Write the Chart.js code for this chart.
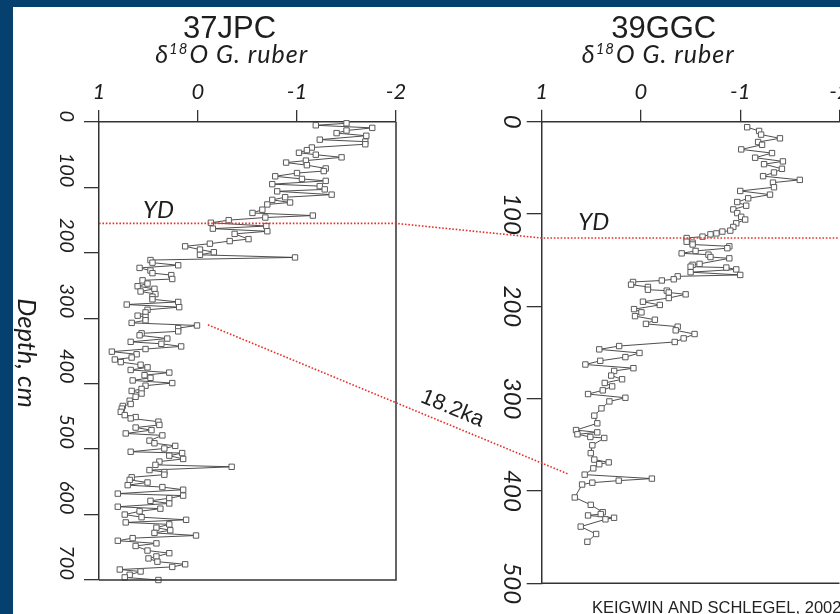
<!DOCTYPE html>
<html><head><meta charset="utf-8">
<script src="https://cdn.jsdelivr.net/npm/chart.js@4.4.1/dist/chart.umd.min.js"></script>
<style>
html,body{margin:0;padding:0;background:#fff;overflow:hidden;}
#wrap{position:relative;width:840px;height:614px;overflow:hidden;background:#fff;}
canvas{position:absolute;left:0;top:0;}
#frameL{position:absolute;left:0;top:0;width:13px;height:614px;background:#05406e;z-index:5}
#frameT{position:absolute;left:0;top:0;width:840px;height:7px;background:#05406e;z-index:5}
</style></head>
<body><div id="wrap">
<canvas id="c37" width="840" height="614" style="width:840px;height:614px"></canvas>
<canvas id="c39" width="900" height="614" style="width:900px;height:614px"></canvas>
<div id="frameL"></div><div id="frameT"></div>
</div>
<script>
// ---- DATA ----
const X_TICKS = [1, 0, -1, -2];
const Y_TICKS_37JPC = [0, 100, 200, 300, 400, 500, 600, 700];
const Y_TICKS_39GGC = [0, 100, 200, 300, 400, 500];

const DEPTH_37JPC = [2,5,9,13,17,21,27,30,34,39,43,47,50,54,59,62,66,71,75,78,83,87,90,95,98,103,106,111,115,119,123,126,134,139,143,146,150,154,159,163,167,171,179,182,186,190,195,199,203,207,211,215,219,223,227,231,234,240,242,247,251,255,259,263,267,271,275,279,283,287,291,296,298,303,307,311,315,320,323,326,331,336,339,343,347,351,355,360,363,367,371,375,379,383,387,391,395,399,403,408,411,415,420,426,431,434,438,443,448,451,453,458,463,467,471,476,479,487,491,495,499,504,506,510,515,519,524,527,532,535,539,543,547,551,555,558,562,568,571,575,579,583,588,591,595,600,604,608,612,615,620,624,628,632,636,640,644,648,655,659,664,667,672,676,680,684,687,692,696,700];
const D18O_37JPC = [-1.50,-1.19,-1.76,-1.50,-1.40,-1.70,-1.23,-1.69,-1.69,-1.15,-1.10,-1.02,-1.19,-1.45,-1.09,-0.89,-1.10,-1.29,-1.27,-1.00,-0.78,-1.05,-1.29,-0.75,-1.23,-1.28,-0.80,-1.35,-0.88,-0.75,-0.93,-0.70,-0.65,-0.55,-1.16,-0.68,-0.31,-0.13,-0.69,-0.15,-0.70,-0.37,-0.51,-0.32,-0.12,0.13,-0.02,-0.16,-0.02,-0.98,0.48,0.46,0.20,0.59,0.48,0.46,0.27,0.26,0.56,0.51,0.61,0.44,0.58,0.43,0.46,0.46,0.20,0.72,0.19,0.51,0.53,0.61,0.53,0.53,0.67,0.01,0.20,0.20,0.57,0.59,0.31,0.68,0.37,0.17,0.53,0.87,0.62,0.67,0.84,0.78,0.58,0.51,0.68,0.29,0.54,0.48,0.66,0.26,0.53,0.57,0.67,0.57,0.63,0.69,0.68,0.76,0.77,0.78,0.74,0.63,0.68,0.40,0.39,0.63,0.47,0.73,0.36,0.49,0.44,0.23,0.34,0.68,0.16,0.29,0.15,0.39,0.43,-0.34,0.49,0.34,0.34,0.67,0.69,0.51,0.71,0.36,0.15,0.81,0.15,0.29,0.48,0.29,0.81,0.38,0.59,0.74,0.57,0.12,0.73,0.29,0.42,0.28,0.44,0.02,0.66,0.81,0.42,0.63,0.51,0.29,0.42,0.50,0.41,0.13,0.26,0.79,0.58,0.69,0.74,0.40];

const DEPTH_39GGC = [6,10,14,18,22,25,30,34,39,43,46,51,55,59,63,66,71,75,79,83,87,91,95,99,103,106,110,114,118,119,121,122,124.5,126,130,131,133,135,137,140,142.6,144,146.6,148,154,155,157,158,160,163,166,167.5,170.7,172,173.6,176.5,179,182,183,185,187,191,195,198.5,203,206.5,210.6,214.5,219,222,226,230,234.7,238.6,243,246.6,250.5,255,259,263,267,270,275,279,283,286.7,291,295,299,303,310.5,318.4,326.7,334,336.5,338.6,341.5,342.6,350.5,359,366,369,371,375.5,382.3,386.6,388.8,391,393,407,415,423,425,426.5,429,430.7,438.6,446.6,455];
const D18O_39GGC = [-1.07,-1.19,-1.21,-1.40,-1.18,-1.22,-1.01,-1.32,-1.15,-1.43,-1.24,-1.42,-1.34,-1.23,-1.60,-1.33,-1.34,-1.00,-1.30,-1.08,-0.97,-1.06,-0.93,-0.97,-1.01,-1.05,-0.96,-0.93,-0.90,-0.82,-0.76,-0.70,-0.62,-0.46,-0.46,-0.52,-0.52,-0.89,-0.87,-0.55,-0.41,-0.68,-0.70,-0.89,-0.59,-0.52,-0.50,-0.86,-0.96,-0.50,-1.00,-0.37,-0.33,-0.21,0.08,0.10,-0.07,-0.07,-0.26,-0.28,-0.45,-0.28,-0.02,-0.19,0.07,-0.005,0.06,-0.14,-0.05,-0.37,-0.35,-0.54,-0.43,-0.34,0.22,0.42,0.015,0.157,0.41,0.56,0.076,0.27,0.30,0.19,0.365,0.29,0.385,0.533,0.157,0.318,0.398,0.47,0.44,0.654,0.44,0.64,0.51,0.37,0.49,0.506,0.47,0.325,0.42,0.48,0.567,-0.11,0.224,0.49,0.593,0.667,0.506,0.385,0.405,0.533,0.271,0.358,0.607,0.452,0.54];

// correlation markers (depth in cm, d18O position)
const YD_DEPTH_37JPC = 155;
const YD_DEPTH_39GGC = 126;
const KA18_37JPC = [-0.10, 310];
const KA18_39GGC = [0.725, 382];

// ---- STYLE ----
const ITAL = 'Lato';
const SANS = '"Liberation Sans", Arial, sans-serif';
const INK = '#1e1e1e';
const AXIS = '#333';
const RED = 'rgb(232,48,38)';

function ds(depths, vals) {
  return {
    data: depths.map((d, i) => ({x: vals[i], y: d})),
    showLine: true, borderColor: '#3a3a3a', borderWidth: 0.9, tension: 0,
    pointStyle: 'rect', pointRadius: 3.8, pointBackgroundColor: '#fff',
    pointBorderColor: '#5a5a5a', pointBorderWidth: 1, clip: false
  };
}

const framePlugin = {
  id: 'frame',
  afterDraw(chart, args, opts) {
    const {ctx, chartArea: a} = chart;
    ctx.save(); ctx.strokeStyle = AXIS; ctx.lineWidth = 1.5;
    ctx.beginPath();
    ctx.moveTo(a.left, a.bottom); ctx.lineTo(a.right + (opts.right ? 0.75 : 0), a.bottom);
    if (opts.right) { ctx.moveTo(a.right, a.top); ctx.lineTo(a.right, a.bottom); }
    ctx.stroke(); ctx.restore();
  }
};

function drawSubtitle(ctx, cx, baseline) {
  const big = 'italic 25px ' + ITAL, small = 'italic 15px ' + ITAL;
  try { ctx.letterSpacing = '1px'; } catch (e) {}
  ctx.font = big; const w1 = ctx.measureText('δ').width; const w3 = ctx.measureText('O G. ruber').width;
  ctx.font = small; const w2 = ctx.measureText('18').width;
  let x = cx - (w1 + w2 + 1 + w3) / 2;
  ctx.textAlign = 'left'; ctx.textBaseline = 'alphabetic'; ctx.fillStyle = INK;
  ctx.font = big; ctx.fillText('δ', x, baseline); x += w1;
  ctx.font = small; ctx.fillText('18', x, baseline - 9); x += w2 + 1;
  ctx.font = big; ctx.fillText('O G. ruber', x, baseline);
  try { ctx.letterSpacing = '0px'; } catch (e) {}
}

const textPlugin = {
  id: 'panelText',
  afterDraw(chart, args, opts) {
    const {ctx, chartArea: a, scales} = chart;
    ctx.save();
    ctx.fillStyle = INK;
    ctx.font = '31px ' + SANS; ctx.textAlign = 'center'; ctx.textBaseline = 'alphabetic';
    ctx.fillText(opts.title, a.left + opts.titleDx, 38);
    drawSubtitle(ctx, a.left + opts.subDx, 63);
    // YD label
    const ydY = scales.y.getPixelForValue(opts.ydDepth);
    ctx.font = 'italic 24px ' + ITAL; ctx.textAlign = 'left'; ctx.textBaseline = 'alphabetic';
    ctx.fillText('YD', a.left + opts.ydDx, ydY - opts.ydDy);
    if (opts.yTitle) {
      ctx.translate(26, 353); ctx.rotate(Math.PI / 2);
      ctx.font = 'italic 25.5px ' + ITAL; ctx.textAlign = 'center'; ctx.textBaseline = 'middle';
      ctx.fillText(opts.yTitle, 0, 0);
    }
    ctx.restore();
  }
};

let leftChart;
const linkPlugin = {
  id: 'links',
  afterDraw(chart) {
    const {ctx} = chart;
    const L = leftChart.scales, R = chart.scales;
    ctx.save();
    ctx.strokeStyle = RED; ctx.lineWidth = 1.6; ctx.setLineDash([1.6, 1.8]); ctx.lineCap = 'butt';
    // Younger Dryas
    const yl = L.y.getPixelForValue(YD_DEPTH_37JPC), yr = R.y.getPixelForValue(YD_DEPTH_39GGC);
    ctx.beginPath();
    ctx.moveTo(L.x.getPixelForValue(1), yl);
    ctx.lineTo(L.x.getPixelForValue(-2), yl);
    ctx.lineTo(R.x.getPixelForValue(1), yr);
    ctx.lineTo(R.x.getPixelForValue(-2), yr);
    ctx.stroke();
    // 18.2 ka
    const x1 = L.x.getPixelForValue(KA18_37JPC[0]), y1 = L.y.getPixelForValue(KA18_37JPC[1]);
    const x2 = R.x.getPixelForValue(KA18_39GGC[0]), y2 = R.y.getPixelForValue(KA18_39GGC[1]);
    ctx.beginPath(); ctx.moveTo(x1, y1); ctx.lineTo(x2, y2); ctx.stroke();
    ctx.setLineDash([]);
    const ang = Math.atan2(y2 - y1, x2 - x1), t = 0.66;
    ctx.translate(x1 + (x2 - x1) * t, y1 + (y2 - y1) * t);
    ctx.rotate(ang);
    ctx.fillStyle = INK; ctx.font = '22px ' + SANS; ctx.textAlign = 'center'; ctx.textBaseline = 'alphabetic';
    ctx.fillText('18.2ka', 0, -10);
    ctx.restore();
    ctx.save();
    ctx.fillStyle = '#222'; ctx.font = '16.5px ' + SANS; ctx.textAlign = 'left'; ctx.textBaseline = 'alphabetic';
    ctx.fillText('KEIGWIN AND SCHLEGEL, 2002', 592, 612.5);
    ctx.restore();
  }
};

function xScale(topH) {
  return {
    type: 'linear', position: 'top', min: -2, max: 1, reverse: true,
    afterBuildTicks: s => { s.ticks = X_TICKS.map(v => ({value: v})); },
    afterFit: s => { s.height = topH; },
    ticks: { font: {family: ITAL, style: 'italic', size: 22}, color: INK, padding: 5, autoSkip: false, maxRotation: 0, callback: v => String(v) },
    grid: { drawOnChartArea: false, drawTicks: true, tickLength: 12, color: AXIS, lineWidth: 1.3 },
    border: { display: true, color: AXIS, width: 1.5 }
  };
}
function yScale(ticks, max, leftW, fontSize, cross, pad) {
  return {
    type: 'linear', position: 'left', min: 0, max: max, reverse: true,
    afterBuildTicks: s => { s.ticks = ticks.map(v => ({value: v})); },
    afterFit: s => { s.width = leftW; },
    ticks: { font: {family: ITAL, style: 'italic', size: fontSize}, color: INK, padding: pad, autoSkip: false, minRotation: -90, maxRotation: 90, crossAlign: cross, callback: v => String(v) },
    grid: { drawOnChartArea: false, drawTicks: true, tickLength: 15, color: AXIS, lineWidth: 1.3 },
    border: { display: true, color: AXIS, width: 1.5 }
  };
}

leftChart = new Chart(document.getElementById('c37'), {
  type: 'scatter',
  data: { datasets: [ds(DEPTH_37JPC, D18O_37JPC)] },
  options: {
    responsive: false, maintainAspectRatio: false, animation: false, events: [],
    layout: { padding: { left: 0, top: 0, right: 840 - 396, bottom: 614 - 580 } },
    plugins: {
      legend: {display: false}, tooltip: {enabled: false},
      frame: { right: true },
      panelText: { title: '37JPC', titleDx: 130.5, subDx: 132.7, ydDepth: YD_DEPTH_37JPC, ydDx: 44, ydDy: 5, yTitle: 'Depth, cm' }
    },
    scales: { x: xScale(122), y: yScale(Y_TICKS_37JPC, 700, 99, 20, 'near', 17.5) }
  },
  plugins: [framePlugin, textPlugin]
});

new Chart(document.getElementById('c39'), {
  type: 'scatter',
  data: { datasets: [ds(DEPTH_39GGC, D18O_39GGC)] },
  options: {
    responsive: false, maintainAspectRatio: false, animation: false, events: [],
    layout: { padding: { left: 0, top: 0, right: 900 - 839.5, bottom: 614 - 583.3 } },
    plugins: {
      legend: {display: false}, tooltip: {enabled: false},
      frame: { right: false },
      panelText: { title: '39GGC', titleDx: 122, subDx: 116.6, ydDepth: YD_DEPTH_39GGC, ydDx: 36.5, ydDy: 8 }
    },
    scales: { x: xScale(121.7), y: yScale(Y_TICKS_39GGC, 500, 541.7, 24, 'center', -6) }
  },
  plugins: [framePlugin, textPlugin, linkPlugin]
});
</script>
</body></html>
